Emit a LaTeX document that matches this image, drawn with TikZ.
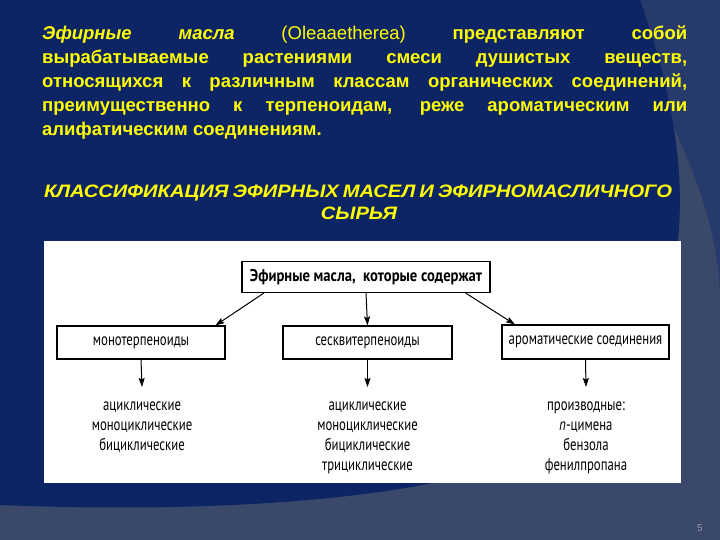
\documentclass[tikz,border=0pt]{standalone}
\usepackage{fontspec}
\setmainfont{Liberation Sans}
\newfontfamily\headfont[FakeStretch=1.12]{Liberation Sans}
\newfontfamily\diagfont[FakeStretch=0.75]{PT Sans}
\newfontfamily\diagtopfont[FakeStretch=0.86]{PT Sans}
\usepackage{tikz}
\usetikzlibrary{shapes,arrows,arrows.meta}
\usetikzlibrary{calc}
\usetikzlibrary{positioning}
\definecolor{navy}{RGB}{13,37,100}
\definecolor{slate}{RGB}{58,72,105}
\definecolor{midslate}{RGB}{38,58,108}
\definecolor{titleyellow}{RGB}{255,255,0}
\definecolor{pagegray}{RGB}{150,156,172}
\newcommand{\fullline}[1]{\makebox[645pt][s]{#1}}

\begin{document}
\begin{tikzpicture}[x=1pt,y=-1pt,
	para_text/.style={anchor=base west,inner sep=0pt,text=titleyellow,font=\fontsize{18.5}{22}\selectfont\bfseries},
	head_text/.style={anchor=base,inner sep=0pt,text=titleyellow,font=\headfont\fontsize{18}{22}\selectfont\bfseries\itshape},
	box_node/.style={draw=black,line width=1.1pt,fill=white,inner sep=0pt,font=\diagfont\fontsize{17}{19.8}\selectfont},
	list_node/.style={anchor=north,align=center,inner sep=0pt,font=\diagfont\fontsize{17}{19.8}\selectfont},
	arr/.style={-{Stealth[length=9pt,width=6pt,inset=1.5pt]},line width=1pt,black}]
	% background of the slide
	\fill[slate] (0,0) rectangle (720,540);
	\fill[midslate] (600,0) .. controls (680,120) and (720,220) .. (720,300) -- (720,0) -- cycle;
	\fill[navy] (0,0) -- (640,0) .. controls (690,140) and (720,330) .. (560,440)
		.. controls (470,495) and (250,515) .. (0,505) -- cycle;
	\useasboundingbox (0,0) rectangle (720,540);
	
	% paragraph
	\node[para_text] (p1) at (42,40) {\fullline{\textit{Эфирные} \textit{масла} \textmd{(Oleaaetherea)} представляют собой}};
	\node[para_text] (p2) at (42,64) {\fullline{вырабатываемые растениями смеси душистых веществ,}};
	\node[para_text] (p3) at (42,88) {\fullline{относящихся к различным классам органических соединений,}};
	\node[para_text] (p4) at (42,112) {\fullline{преимущественно к терпеноидам, реже ароматическим или}};
	\node[para_text] (p5) at (42,136) {алифатическим соединениям.};
	
	% heading
	\node[head_text] (h1) at (358,197) {\makebox[628pt][s]{КЛАССИФИКАЦИЯ ЭФИРНЫХ МАСЕЛ И ЭФИРНОМАСЛИЧНОГО}};
	\node[head_text] (h2) at (359,220) {СЫРЬЯ};
	
	% scheme
	\fill[white] (44,241) rectangle (681,483);
	\node[box_node,minimum width=248pt,minimum height=31pt,font=\diagtopfont\fontsize{17}{19.8}\selectfont\bfseries] (top) at (366,277) {Эфирные масла,\ \ которые содержат};
	\node[box_node,minimum width=168pt,minimum height=33pt] (mono) at (141,342.5) {монотерпеноиды};
	\node[box_node,minimum width=169pt,minimum height=33pt] (sesq) at (367.5,342.5) {сесквитерпеноиды};
	\node[box_node,minimum width=167pt,minimum height=34pt] (arom) at (585.5,342) {ароматические соединения};
	
	\node[list_node] (monolist) at (142,402) {ациклические\\моноциклические\\бициклические};
	\node[list_node] (sesqlist) at (367.5,402) {ациклические\\моноциклические\\бициклические\\трициклические};
	\node[list_node] (aromlist) at (586,402) {производные:\\\textit{п}-цимена\\бензола\\фенилпропана};
	
	\path
	($(top.south west)!0.09!(top.south east)$) edge[arr] ($(mono.north west)!0.94!(mono.north east)$)
	(top.south) edge[arr] (sesq.north)
	($(top.south west)!0.9!(top.south east)$) edge[arr] ($(arom.north west)!0.08!(arom.north east)$)
	(mono.south) edge[arr] ([yshift=15pt]monolist.north)
	(sesq.south) edge[arr] ([yshift=15pt]sesqlist.north)
	(arom.south) edge[arr] ([yshift=15pt]aromlist.north);
	
	% slide number
	\node[text=pagegray,font=\fontsize{10}{12}\selectfont] (num) at (700,528) {5};
\end{tikzpicture}
\end{document}
